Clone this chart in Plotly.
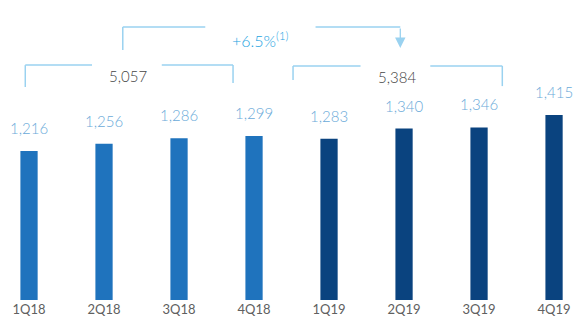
import plotly.graph_objects as go

quarters = ["1Q18", "2Q18", "3Q18", "4Q18", "1Q19", "2Q19", "3Q19", "4Q19"]
values = [1216, 1256, 1286, 1299, 1283, 1340, 1346, 1415]
bar_colors = ["#1f73bd"] * 4 + ["#0a437f"] * 4
growth_label = "+6.5%<sup>(1)</sup>"

total_18 = sum(values[:4])
total_19 = sum(values[4:])

FONT = "Lato"
LINE = "#9ad2f0"
xs = list(range(len(quarters)))

fig = go.Figure()
fig.add_trace(go.Bar(x=xs, y=values, marker=dict(color=bar_colors, line=dict(width=0)),
                     width=0.23, hoverinfo="skip"))

# value labels
for x, v in zip(xs, values):
    fig.add_annotation(x=x, y=v, text=f"{v:,}", showarrow=False, yshift=23,
                       font=dict(family=FONT, size=15, color="#6aaad9", weight=300))

shapes = []
def seg(x0, y0, x1, y1):
    shapes.append(dict(type="line", xref="x", yref="paper", x0=x0, y0=y0, x1=x1, y1=y1,
                       line=dict(color=LINE, width=1.5)))

# 2018 bracket
yb = 0.783
seg(-0.05, yb, 0.84, yb); seg(1.77, yb, 2.72, yb)
seg(-0.05, yb, -0.05, 0.71); seg(2.72, yb, 2.72, 0.723)
fig.add_annotation(x=1.32, y=yb, yref="paper", text=f"{total_18:,}", showarrow=False,
                   font=dict(family=FONT, size=15, color="#444444", weight=300))
# 2019 bracket
yb2 = 0.78
seg(3.52, yb2, 4.42, yb2); seg(5.35, yb2, 6.31, yb2)
seg(3.52, yb2, 3.52, 0.733); seg(6.31, yb2, 6.31, 0.713)
fig.add_annotation(x=4.91, y=yb2, yref="paper", text=f"{total_19:,}", showarrow=False,
                   font=dict(family=FONT, size=15, color="#444444", weight=300))
# growth bracket
yg = 0.91
seg(1.25, yg, 2.35, yg); seg(3.82, yg, 4.95, yg)
seg(1.25, yg, 1.25, 0.833)
fig.add_annotation(x=4.95, y=0.84, yref="paper", ax=0, ay=-21, showarrow=True,
                   arrowhead=2, arrowsize=1.6, arrowwidth=1.3, arrowcolor=LINE, text="")
fig.add_annotation(x=3.08, y=yg, yref="paper", text=growth_label, showarrow=False,
                   font=dict(family=FONT, size=16, color="#23a3df", weight=300))

fig.update_layout(
    width=577, height=322, margin=dict(l=0, r=0, t=0, b=22),
    paper_bgcolor="white", plot_bgcolor="white", showlegend=False,
    shapes=shapes,
    xaxis=dict(range=[-0.387, 7.306], tickvals=xs, ticktext=quarters, showgrid=False,
               zeroline=False, showline=False, ticks="",
               tickfont=dict(family=FONT, size=13, color="#606060")),
    yaxis=dict(range=[393, 2050], visible=False),
)
fig.write_html("out.html", config={"displayModeBar": False},
               post_script="document.body.style.margin='0';document.body.style.overflow='hidden';")
